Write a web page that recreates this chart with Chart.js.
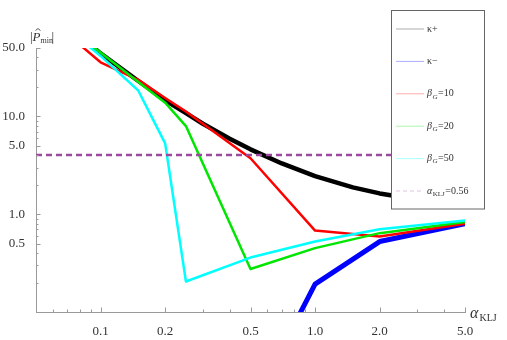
<!DOCTYPE html>
<html>
<head>
<meta charset="utf-8">
<script src="https://cdn.jsdelivr.net/npm/chart.js@4"></script>
<style>
body{margin:0;background:#fff;}
</style>
</head>
<body>
<canvas id="myChart" width="507" height="340"></canvas>
<script>
'use strict';
// kappa curves
let alphaKplus=[0.05,0.1,0.15,0.2,0.25,0.3,0.4,0.5,0.7,1.0,1.5,2.0,3.0,5.0];
let kappaPlus=[158,44,23,14.6,10.8,8.4,5.9,4.6,3.3,2.45,1.88,1.63,1.41,1.31];
let alphaKminus=[0.5,1.0,2.0,5.0];
let kappaMinus=[0.01,0.193,0.525,0.80];
// beta_G curves
let alphaBeta=[0.05,0.1,0.15,0.2,0.25,0.5,1.0,2.0,5.0];
let beta10=[130,35.7,23.6,15.4,11.2,3.73,0.68,0.59,0.80];
let beta20=[146,45,22.5,13.8,7.96,0.275,0.45,0.64,0.83];
let beta50=[144,41.5,18.3,5.3,0.205,0.36,0.525,0.70,0.86];
// alpha_KLJ=0.56 line
let alphaLine=[0.05,5.0];
let kljLine=[4.03,4.03];
// ticks
let xTicks=[0.1,0.2,0.5,1.0,2.0,5.0];
let yTicks=[0.5,1.0,5.0,10.0,50.0];
let seriesNames=['κ+','κ−','β_G=10','β_G=20','β_G=50','α_KLJ=0.56'];

function pts(xs,ys){
  return xs.map(function(x,i){return {x:x,y:ys[i]};});
}

let serif='"Liberation Serif", "DejaVu Serif", serif';

function fade(hex){
  let r=parseInt(hex.slice(1,3),16),g=parseInt(hex.slice(3,5),16),b=parseInt(hex.slice(5,7),16);
  let f=0.68;
  r=Math.round(r+(255-r)*f);g=Math.round(g+(255-g)*f);b=Math.round(b+(255-b)*f);
  return 'rgb('+r+','+g+','+b+')';
}

function drawLabel(ctx,text,x,y,size){
  let parts=text.split('_');
  if(parts.length===1){
    ctx.font=size+'px '+serif;
    ctx.fillText(text,x,y);
    return;
  }
  ctx.font='italic '+size+'px '+serif;
  ctx.fillText(parts[0],x,y);
  x+=ctx.measureText(parts[0]).width;
  let eq=parts[1].indexOf('=');
  let sub=parts[1].slice(0,eq),rest=parts[1].slice(eq);
  ctx.font=(sub==='G'?'italic ':'')+Math.round(size*0.7)+'px '+serif;
  ctx.fillText(sub,x+0.5,y+size*0.3);
  x+=ctx.measureText(sub).width+1;
  ctx.font=size+'px '+serif;
  ctx.fillText(rest,x,y);
}

function minorTicks(min,max){
  let out=[];
  for(let d=0.01;d<=100;d*=10){
    for(let k=1;k<10;k++){
      let v=+(d*k).toPrecision(3);
      if(v>=min&&v<=max)out.push(v);
    }
  }
  return out;
}

let extras={
  id:'extras',
  afterDraw:function(chart){
    let ctx=chart.ctx;
    let xs=chart.scales.x,ys=chart.scales.y,area=chart.chartArea;
    ctx.save();
    ctx.strokeStyle='#9a9a9a';
    ctx.lineWidth=1;
    //tick marks pointing into the plot
    minorTicks(0.05,5).forEach(function(v){
      let len=xTicks.indexOf(v)>=0?4.5:2.5;
      let px=Math.round(xs.getPixelForValue(v))+0.5;
      ctx.beginPath();ctx.moveTo(px,area.bottom);ctx.lineTo(px,area.bottom-len);ctx.stroke();
    });
    minorTicks(0.1,50).forEach(function(v){
      let len=yTicks.indexOf(v)>=0?4.5:2.5;
      let py=Math.round(ys.getPixelForValue(v))+0.5;
      ctx.beginPath();ctx.moveTo(area.left,py);ctx.lineTo(area.left+len,py);ctx.stroke();
    });

    //axis titles
    ctx.fillStyle='#333';
    ctx.textBaseline='alphabetic';
    ctx.font='13px '+serif;
    ctx.fillText('|',30,41);
    ctx.font='italic 13px '+serif;
    ctx.fillText('P',32.5,41);
    ctx.strokeStyle='#333';
    ctx.lineWidth=0.8;
    ctx.beginPath();ctx.moveTo(35.5,30.5);ctx.lineTo(38,28.5);ctx.lineTo(40.5,30.5);ctx.stroke();
    ctx.font='8px '+serif;
    ctx.fillText('min',40.5,43);
    ctx.font='13px '+serif;
    ctx.fillText('|',51.5,41);

    ctx.font='italic 16px '+serif;
    ctx.fillText('α',470,318);
    ctx.font='10px '+serif;
    ctx.fillText('KLJ',479.5,321);

    //legend box
    let bx=391.5,by=10.5,bw=93,bh=198.5;
    ctx.fillStyle='#fff';
    ctx.fillRect(bx,by,bw,bh);
    ctx.strokeStyle='#666';
    ctx.lineWidth=1;
    ctx.strokeRect(bx,by,bw,bh);
    chart.data.datasets.forEach(function(ds,i){
      let yy=29+i*32.4;
      ctx.strokeStyle=fade(ds.borderColor);
      ctx.lineWidth=1;
      ctx.setLineDash(ds.borderDash?[4,3]:[]);
      ctx.beginPath();ctx.moveTo(396,yy);ctx.lineTo(424,yy);ctx.stroke();
      ctx.setLineDash([]);
      ctx.fillStyle='#333';
      ctx.textBaseline='middle';
      drawLabel(ctx,seriesNames[i],427,yy,10);
    });
    ctx.restore();
  }
};

let ctx=document.getElementById('myChart').getContext('2d');
let myChart=new Chart(ctx,{
  type:'line',
  data:{
    datasets:[{
      label:seriesNames[0],
      data:pts(alphaKplus,kappaPlus),
      borderColor:'#000000',
      borderWidth:4.5,
      order:6
    },{
      label:seriesNames[1],
      data:pts(alphaKminus,kappaMinus),
      borderColor:'#0000ff',
      borderWidth:5,
      order:5
    },{
      label:seriesNames[2],
      data:pts(alphaBeta,beta10),
      borderColor:'#ff0000',
      borderWidth:2.5,
      order:4
    },{
      label:seriesNames[3],
      data:pts(alphaBeta,beta20),
      borderColor:'#00e600',
      borderWidth:2.5,
      order:3
    },{
      label:seriesNames[4],
      data:pts(alphaBeta,beta50),
      borderColor:'#00ffff',
      borderWidth:2.5,
      order:2
    },{
      label:seriesNames[5],
      data:pts(alphaLine,kljLine),
      borderColor:'#9b4a9b',
      borderWidth:2.5,
      borderDash:[6,4],
      order:1
    }]
  },
  options:{
    responsive:false,
    devicePixelRatio:1,
    animation:false,
    layout:{padding:{top:48,right:42,left:0,bottom:0}},
    elements:{point:{radius:0},line:{tension:0,borderJoinStyle:'round',fill:false}},
    plugins:{legend:{display:false},tooltip:{enabled:false}},
    scales:{
      x:{
        type:'logarithmic',
        min:0.05,
        max:5,
        grid:{display:false},
        border:{display:true,color:'#9a9a9a',width:1},
        afterBuildTicks:function(scale){scale.ticks=xTicks.map(function(v){return {value:v};});},
        afterFit:function(scale){scale.height=28;},
        ticks:{padding:4,color:'#333',autoSkip:false,maxRotation:0,font:{family:serif,size:13},
          callback:function(v){return Number(v).toFixed(1);}}
      },
      y:{
        type:'logarithmic',
        min:0.1,
        max:50,
        grid:{display:false},
        border:{display:true,color:'#9a9a9a',width:1},
        afterBuildTicks:function(scale){scale.ticks=yTicks.map(function(v){return {value:v};});},
        afterFit:function(scale){scale.width=36;},
        ticks:{padding:3,color:'#333',autoSkip:false,font:{family:serif,size:13},
          callback:function(v){return Number(v).toFixed(1);}}
      }
    }
  },
  plugins:[extras]
});
</script>
</body>
</html>
